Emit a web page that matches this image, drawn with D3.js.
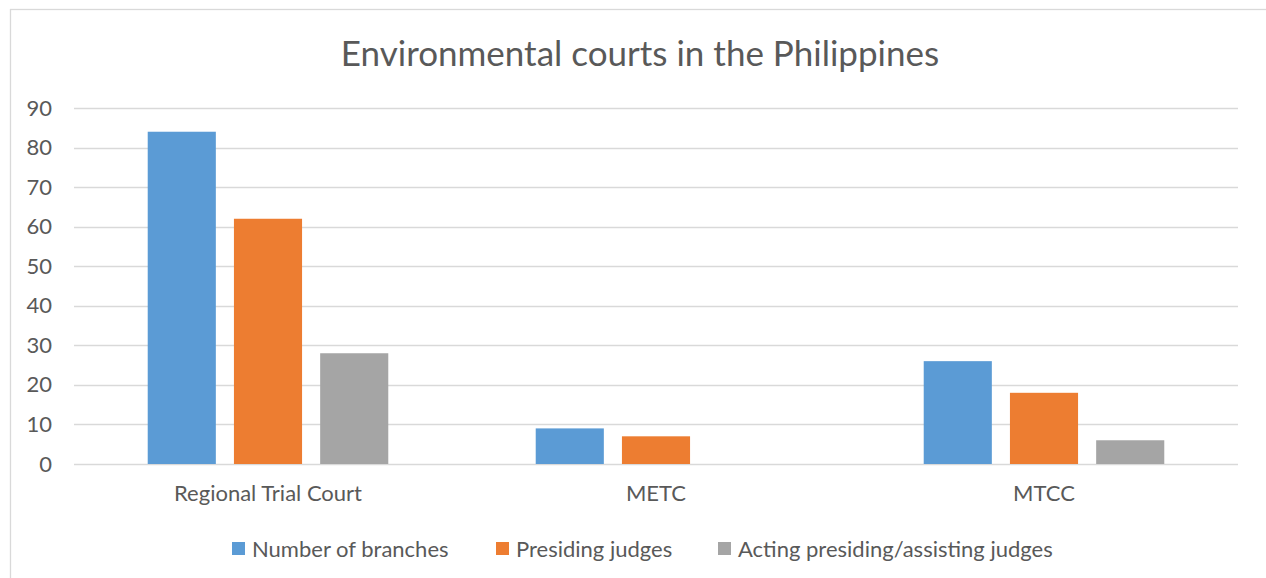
<!DOCTYPE html>
<html>
<head>
<meta charset="utf-8">
<script src="https://cdn.jsdelivr.net/npm/d3@7"></script>
<style>
  body { margin: 0; background: #fff; }
  text { font-family: Lato, "Liberation Sans", sans-serif; fill: #595959; }
</style>
</head>
<body>
<div id="chart"></div>
<script>
// data
var categories = ["Regional Trial Court", "METC", "MTCC"];
var seriesNames = ["Number of branches", "Presiding judges", "Acting presiding/assisting judges"];
var branches = [84, 9, 26];
var presiding = [62, 7, 18];
var acting = [28, 0, 6];
var yTicks = [0, 10, 20, 30, 40, 50, 60, 70, 80, 90];
var colors = ["#5B9BD5", "#ED7D31", "#A5A5A5"];

var width = 1266, height = 578;
var margin = {left: 74, right: 28, top: 108, bottom: 114};
var labelSize = "22px";

var rows = categories.map(function(c, i) {
    return {cat: c, values: [branches[i], presiding[i], acting[i]]};
});

var svg = d3.select("#chart").append("svg")
    .attr("width", width)
    .attr("height", height);

// chart border
svg.append("rect")
    .attr("x", 10.5).attr("y", 9.5)
    .attr("width", width).attr("height", height)
    .attr("fill", "none")
    .attr("stroke", "#D9D9D9")
    .attr("stroke-width", 1.3);

var x0 = d3.scaleBand()
    .domain(categories)
    .range([margin.left, width - margin.right]);

var x1 = d3.scaleBand()
    .domain(d3.range(3))
    .range([x0.bandwidth() * 0.19, x0.bandwidth() * 0.81])
    .paddingInner(0.21);

var y = d3.scaleLinear()
    .domain([0, 90])
    .range([height - margin.bottom, margin.top]);

// gridlines
svg.append("g").selectAll("line")
    .data(yTicks)
    .enter().append("line")
    .attr("x1", margin.left)
    .attr("x2", width - margin.right)
    .attr("y1", function(d) { return Math.round(y(d)) + 0.5; })
    .attr("y2", function(d) { return Math.round(y(d)) + 0.5; })
    .attr("stroke", "#D9D9D9")
    .attr("stroke-width", 1.3);

// y axis labels
var yAxis = d3.axisLeft(y).tickValues(yTicks).tickSize(0).tickPadding(22);
var yg = svg.append("g")
    .attr("transform", "translate(" + margin.left + ",0)")
    .call(yAxis);
yg.select(".domain").remove();
yg.selectAll("text")
    .style("font-size", labelSize)
    .style("font-family", "Lato, sans-serif")
    .attr("fill", "#595959");

// bars
var groups = svg.append("g").selectAll("g")
    .data(rows)
    .enter().append("g")
    .attr("transform", function(d) { return "translate(" + x0(d.cat) + ",0)"; });

groups.selectAll("rect")
    .data(function(d) { return d.values; })
    .enter().append("rect")
    .attr("x", function(d, i) { return x1(i); })
    .attr("width", x1.bandwidth())
    .attr("y", function(d) { return y(d); })
    .attr("height", function(d) { return y(0) - y(d); })
    .attr("fill", function(d, i) { return colors[i]; });

// x axis labels
var xAxis = d3.axisBottom(x0).tickSize(0).tickPadding(21);
var xg = svg.append("g")
    .attr("transform", "translate(0," + y(0) + ")")
    .call(xAxis);
xg.select(".domain").remove();
xg.selectAll("text")
    .style("font-size", labelSize)
    .style("font-family", "Lato, sans-serif")
    .attr("fill", "#595959");

// title
svg.append("text")
    .attr("x", 640)
    .attr("y", 66)
    .attr("text-anchor", "middle")
    .style("font-size", "35px")
    .text("Environmental courts in the Philippines");

// legend
var legendX = [232, 496, 718];
var legend = svg.append("g").selectAll("g")
    .data(seriesNames)
    .enter().append("g")
    .attr("transform", function(d, i) { return "translate(" + legendX[i] + ",542)"; });

legend.append("rect")
    .attr("width", 13)
    .attr("height", 13)
    .attr("fill", function(d, i) { return colors[i]; });

legend.append("text")
    .attr("x", 20)
    .attr("y", 7)
    .attr("dy", "0.35em")
    .style("font-size", labelSize)
    .text(function(d) { return d; });
</script>
</body>
</html>
